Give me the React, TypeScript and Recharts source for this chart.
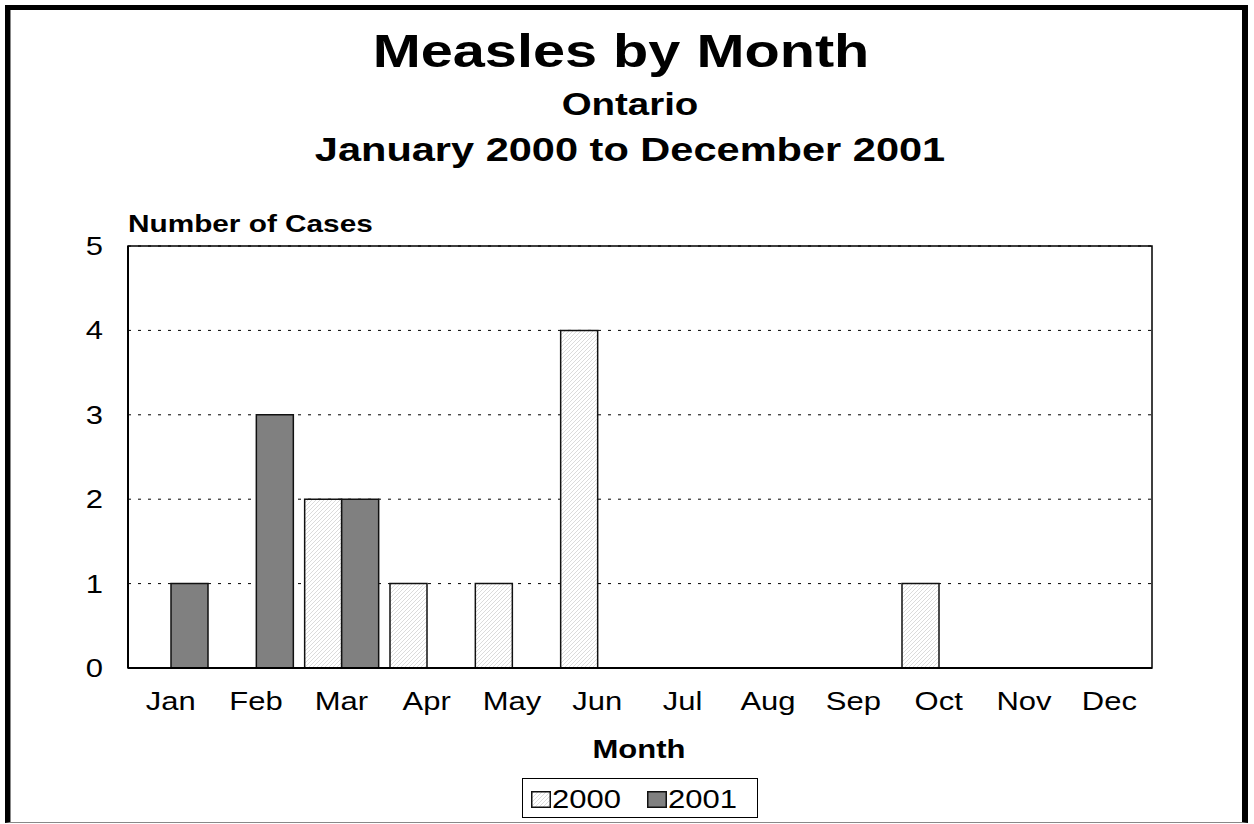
import React from 'react';
import { BarChart, Bar, XAxis, YAxis, CartesianGrid, ReferenceArea } from 'recharts';

const months = ['Jan', 'Feb', 'Mar', 'Apr', 'May', 'Jun', 'Jul', 'Aug', 'Sep', 'Oct', 'Nov', 'Dec'];
const cases2000 = [0, 0, 2, 1, 1, 4, 0, 0, 0, 1, 0, 0];
const cases2001 = [1, 3, 2, 0, 0, 0, 0, 0, 0, 0, 0, 0];
const yTicks = [0, 1, 2, 3, 4, 5];

const data = months.map((m, i) => ({ month: m, y2000: cases2000[i], y2001: cases2001[i] }));

const FONT = '"Liberation Sans", Arial, sans-serif';
// the original text is drawn a bit wider than Arial
const STRETCH = 1.24;

// places a line of text by its baseline; anchor is the centre (or left edge)
function Txt({ x, baseline, size, bold, left, children }: any) {
  return (
    <div
      style={{
        position: 'absolute',
        left: x,
        top: baseline - 0.8465 * size,
        fontSize: size,
        lineHeight: `${size}px`,
        fontWeight: bold ? 'bold' : 'normal',
        whiteSpace: 'nowrap',
        transformOrigin: left ? '0 0' : '50% 0',
        transform: left ? `scaleX(${STRETCH})` : `translateX(-50%) scaleX(${STRETCH})`,
      }}
    >
      {children}
    </div>
  );
}

function XTick({ x, y, payload }: any) {
  return (
    <g transform={`translate(${x},${y}) scale(${STRETCH},1)`}>
      <text x={0} y={42} textAnchor="middle" fontSize={25} fontFamily={FONT} fill="#000">
        {payload.value}
      </text>
    </g>
  );
}

function YTick({ x, y, payload }: any) {
  return (
    <g transform={`translate(${x},${y}) scale(${STRETCH},1)`}>
      <text x={0} y={9} textAnchor="end" fontSize={25} fontFamily={FONT} fill="#000">
        {payload.value}
      </text>
    </g>
  );
}

function Swatch({ fill }: { fill: string }) {
  return (
    <svg width={20} height={17} style={{ position: 'absolute', top: 12 }}>
      <rect x={0.75} y={0.75} width={18.5} height={15.5} fill={fill} stroke="#111" strokeWidth={1.5} />
    </svg>
  );
}

function LegendBox() {
  return (
    <div
      style={{
        position: 'absolute',
        left: 522,
        top: 778,
        width: 236,
        height: 40,
        boxSizing: 'border-box',
        border: '1.5px solid #000',
        background: '#fff',
      }}
    >
      <svg width={0} height={0} style={{ position: 'absolute' }}>
        <defs>
          <pattern id="hatchLegend" width="4" height="4" patternUnits="userSpaceOnUse">
            <rect width="4" height="4" fill="#fff" />
            <path d="M0,4 L4,0 M-1,1 L1,-1 M3,5 L5,3" stroke="#d2d2d2" strokeWidth="0.8" />
          </pattern>
        </defs>
      </svg>
      <div style={{ position: 'absolute', left: 8 }}>
        <Swatch fill="url(#hatchLegend)" />
      </div>
      <div style={{ position: 'absolute', left: 124 }}>
        <Swatch fill="#808080" />
      </div>
      <Txt x={29} baseline={29} size={25} left>2000</Txt>
      <Txt x={145} baseline={29} size={25} left>2001</Txt>
    </div>
  );
}

export default function App() {
  return (
    <div style={{ position: 'absolute', left: 0, top: 0, width: 1254, height: 824, background: '#fff', fontFamily: FONT, color: '#000' }}>
      <div
        style={{
          position: 'absolute',
          left: 5,
          top: 5,
          width: 1243,
          height: 818,
          boxSizing: 'border-box',
          borderTop: '5px solid #000',
          borderLeft: '5px solid #000',
          borderRight: '6px solid #000',
          borderBottom: '1px solid #888',
        }}
      />
      <div style={{ position: 'absolute', left: 10, top: 10, width: 1, height: 812, background: '#888' }} />
      <div style={{ position: 'absolute', left: 0, top: 0 }}>
        <BarChart
          width={1254}
          height={824}
          data={data}
          margin={{ top: 246, right: 102, left: 68, bottom: 106 }}
          barCategoryGap={6}
          barGap={0}
        >
          <defs>
            <pattern id="hatch2000" width="4" height="4" patternUnits="userSpaceOnUse">
              <rect width="4" height="4" fill="#fff" />
              <path d="M0,4 L4,0 M-1,1 L1,-1 M3,5 L5,3" stroke="#d2d2d2" strokeWidth="0.8" />
            </pattern>
          </defs>
          <CartesianGrid vertical={false} stroke="#000" strokeDasharray="3 7" />
          <ReferenceArea y1={0} y2={5} fill="none" stroke="#000" strokeWidth={1.5} fillOpacity={0} ifOverflow="visible" />
          <XAxis
            dataKey="month"
            axisLine={{ stroke: '#000', strokeWidth: 2 }}
            tickLine={false}
            tickSize={0}
            tickMargin={0}
            height={50}
            tick={<XTick />}
            interval={0}
          />
          <YAxis
            domain={[0, 5]}
            ticks={yTicks}
            width={60}
            axisLine={{ stroke: '#000', strokeWidth: 2 }}
            tickLine={false}
            tickSize={0}
            tickMargin={25}
            tick={<YTick />}
          />
          <Bar dataKey="y2000" name="2000" fill="url(#hatch2000)" stroke="#111" strokeWidth={1.5} isAnimationActive={false} />
          <Bar dataKey="y2001" name="2001" fill="#808080" stroke="#111" strokeWidth={1.5} isAnimationActive={false} />
        </BarChart>
      </div>
      <Txt x={621} baseline={67} size={46.5} bold>Measles by Month</Txt>
      <Txt x={630} baseline={115} size={31} bold>Ontario</Txt>
      <Txt x={630} baseline={161} size={33.5} bold>January 2000 to December 2001</Txt>
      <Txt x={128} baseline={232} size={24} bold left>Number of Cases</Txt>
      <Txt x={639} baseline={758} size={25} bold>Month</Txt>
      <LegendBox />
    </div>
  );
}
